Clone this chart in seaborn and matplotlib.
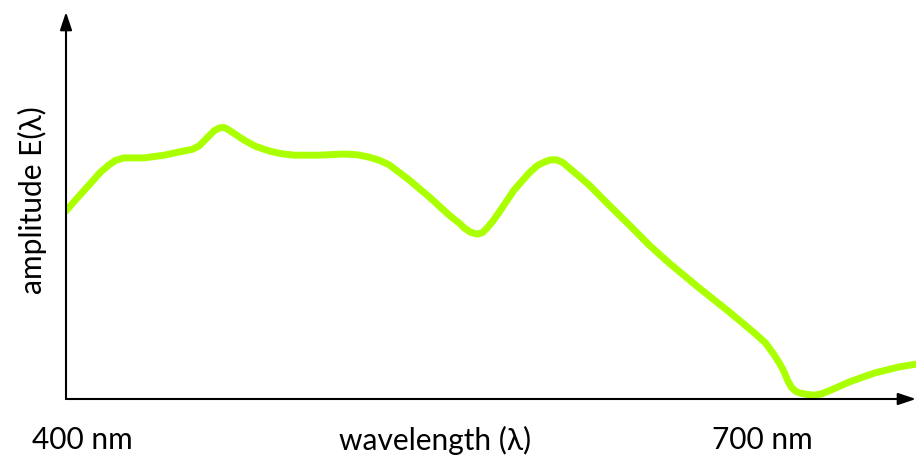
import matplotlib
matplotlib.use("Agg")
import matplotlib.pyplot as plt
import seaborn as sns
import pandas as pd

# wavelength (nm) and amplitude
wavelength = [400.0, 405.0, 409.5, 414.0, 417.7, 420.5, 423.9, 432.1, 440.4, 448.6,
              452.0, 454.8, 457.0, 458.9, 461.0, 463.0, 464.8, 466.3, 469.5, 473.3,
              478.0, 483.6, 488.5, 493.9, 504.2, 514.5, 520.0, 524.8, 529.0, 533.1,
              541.3, 549.6, 557.8, 562.0, 564.0, 566.5, 569.3, 571.5, 573.4, 575.8,
              578.4, 584.5, 590.7, 594.0, 596.9, 599.5, 602.2, 604.8, 607.2, 611.0,
              615.4, 623.6, 631.9, 640.1, 648.4, 660.7, 673.1, 683.4, 688.0, 691.6,
              694.0, 695.7, 697.0, 698.6, 700.2, 701.9, 704.8, 708.1, 711.0, 714.2,
              722.5, 732.8, 743.1, 750.0]
amplitude = [0.486, 0.522, 0.553, 0.585, 0.605, 0.617, 0.623, 0.623, 0.630, 0.641,
             0.645, 0.654, 0.668, 0.680, 0.693, 0.700, 0.702, 0.698, 0.685, 0.669,
             0.653, 0.641, 0.634, 0.630, 0.630, 0.633, 0.631, 0.625, 0.617, 0.605,
             0.566, 0.522, 0.475, 0.454, 0.442, 0.431, 0.426, 0.430, 0.442, 0.460,
             0.483, 0.540, 0.584, 0.603, 0.612, 0.618, 0.618, 0.610, 0.597, 0.577,
             0.553, 0.501, 0.450, 0.398, 0.351, 0.287, 0.225, 0.171, 0.145, 0.114,
             0.090, 0.070, 0.050, 0.031, 0.021, 0.016, 0.012, 0.010, 0.013, 0.021,
             0.044, 0.067, 0.083, 0.090]

x_labels = ["400 nm", "wavelength (\u03bb)", "700 nm"]
y_label = "amplitude E(\u03bb)"

sns.set_theme(style="white")
plt.rcParams['font.family'] = ['Lato', 'DejaVu Sans']

fig = plt.figure(figsize=(9.16, 4.57), dpi=100)
ax = fig.add_axes([66/916, 58/457, 850/916, 387/457])

df = pd.DataFrame({"wavelength": wavelength, "amplitude": amplitude})
sns.lineplot(data=df, x="wavelength", y="amplitude", ax=ax, color="#aaff00",
             linewidth=5, solid_capstyle="round", solid_joinstyle="round", sort=False)

ax.set_xlim(400, 750)
ax.set_ylim(0, 1)
for s in ax.spines.values():
    s.set_visible(False)
ax.set_xticks([])
ax.set_yticks([])
ax.set_xlabel("")
ax.set_ylabel("")

arrow = dict(arrowstyle="-|>,head_length=0.9,head_width=0.3", color="black", lw=1.5,
             shrinkA=0, shrinkB=0)
ax.annotate("", xy=(0, 1), xytext=(0, 0), xycoords="axes fraction", arrowprops=arrow,
            annotation_clip=False)
ax.annotate("", xy=(1, 0), xytext=(0, 0), xycoords="axes fraction", arrowprops=arrow,
            annotation_clip=False)

fs = 21.5
fig.text(82/916, 1 - 440/457, x_labels[0], fontsize=fs, ha="center", va="center", color="black")
fig.text(435/916, 1 - 440/457, x_labels[1], fontsize=fs, ha="center", va="center", color="black")
fig.text(762/916, 1 - 440/457, x_labels[2], fontsize=fs, ha="center", va="center", color="black")
fig.text(32/916, 1 - 200/457, y_label, fontsize=fs, ha="center", va="center", rotation=90,
         color="black")

fig.savefig("out.png", dpi=100)
